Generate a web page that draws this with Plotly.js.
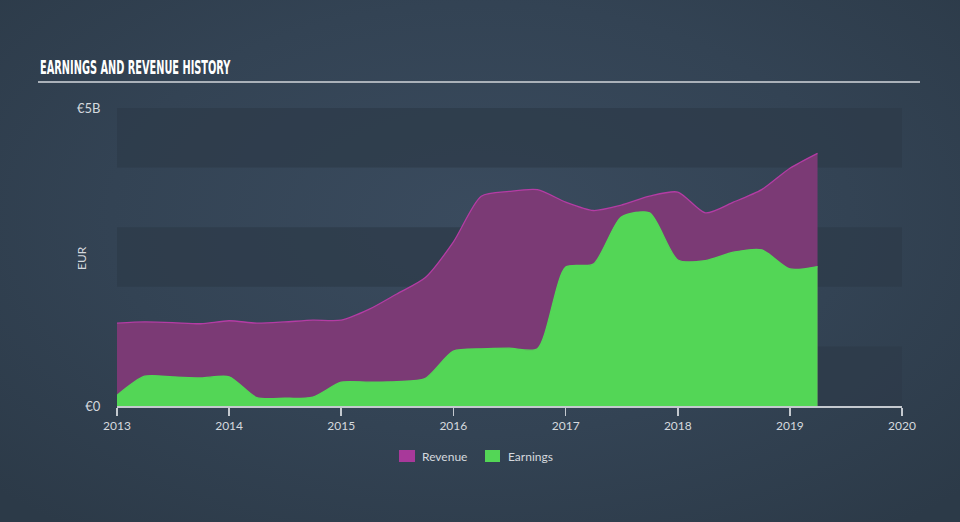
<!DOCTYPE html>
<html>
<head>
<meta charset="utf-8">
<script src="https://cdn.plot.ly/plotly-3.0.1.min.js"></script>
<style>
html,body{margin:0;padding:0;width:960px;height:522px;overflow:hidden;
background:radial-gradient(ellipse 70% 75% at 50% 42%, #3a4b5e 0%, #334354 55%, #2c3a48 100%);}
#chart{width:960px;height:522px;}
</style>
</head>
<body>
<div id="chart"></div>
<script>
const revenueDates = ['2013-01-01','2013-04-01','2013-07-01','2013-10-01','2014-01-01','2014-04-01','2014-07-01','2014-10-01','2015-01-01','2015-04-01','2015-07-01','2015-10-01','2016-01-01','2016-04-01','2016-07-01','2016-10-01','2017-01-01','2017-04-01','2017-07-01','2017-10-01','2018-01-01','2018-04-01','2018-07-01','2018-10-01','2019-01-01','2019-04-01'];
const revenueValues = [1.39,1.41,1.40,1.38,1.43,1.39,1.41,1.44,1.44,1.62,1.88,2.15,2.75,3.52,3.60,3.63,3.42,3.28,3.37,3.52,3.59,3.24,3.42,3.63,3.99,4.24];
const earningsDates = revenueDates;
const earningsValues = [0.18,0.50,0.49,0.47,0.49,0.14,0.13,0.15,0.40,0.40,0.41,0.46,0.92,0.96,0.97,0.96,2.33,2.38,3.17,3.24,2.45,2.44,2.58,2.62,2.30,2.34];
const yTickVals = [0,5];
const yTickText = ['€0','€5B'];
const seriesNames = ['Revenue','Earnings'];
const seriesColors = ['#a8399a','#53d656'];

const font = 'Lato, "Open Sans", sans-serif';
const L = 117, T = 108, W = 785, H = 298;
const px = x => (x - L) / W;
const py = y => (T + H - y) / H;

const bands = [[0,1],[2,3],[4,5]].map(b => ({type:'rect',xref:'paper',yref:'y',x0:0,x1:1,y0:b[0],y1:b[1],fillcolor:'#2d3b4a',opacity:0.75,line:{width:0},layer:'below'}));

// legend swatches (manual)
const legendSw = [[399,415],[485,500]];
const legendTx = [420,506];
const legendShapes = legendSw.map((s,i)=>({type:'rect',xref:'paper',yref:'paper',x0:px(s[0]),x1:px(s[1]),y0:py(462),y1:py(450),fillcolor:seriesColors[i],line:{width:0}}));
const legendAnn = legendTx.map((x,i)=>({text:seriesNames[i],xref:'paper',yref:'paper',x:px(x),y:py(456),xanchor:'left',yanchor:'middle',showarrow:false,font:{size:12,color:'#d5d9de',family:font}}));

const traces = [
 {x:revenueDates,y:revenueValues,type:'scatter',mode:'lines',fill:'tozeroy',fillcolor:'#7b3a75',name:seriesNames[0],
  line:{color:'#b43ca4',width:1.3,shape:'spline',smoothing:0.7},showlegend:false,hoverinfo:'skip'},
 {x:earningsDates,y:earningsValues,type:'scatter',mode:'lines',fill:'tozeroy',fillcolor:'#53d656',name:seriesNames[1],
  line:{color:'#53d656',width:1.3,shape:'spline',smoothing:0.7},showlegend:false,hoverinfo:'skip'}
];

const layout = {
 width:960,height:522,
 paper_bgcolor:'rgba(0,0,0,0)',plot_bgcolor:'rgba(0,0,0,0)',
 margin:{l:L,r:960-L-W,t:T,b:522-T-H},
 font:{family:font,color:'#d5d9de',size:12},
 showlegend:false,
 xaxis:{type:'date',range:['2013-01-01','2020-01-01'],dtick:'M12',tick0:'2013-01-01',tickformat:'%Y',
  showgrid:false,zeroline:false,showline:true,linecolor:'#c4c9cf',linewidth:1.5,
  ticks:'outside',ticklen:8,tickcolor:'#c4c9cf',tickwidth:1.5,tickfont:{size:12,color:'#d5d9de'},fixedrange:true},
 yaxis:{range:[0,5],tickvals:yTickVals,ticktext:yTickText,showgrid:false,zeroline:false,showline:false,
  ticks:'outside',ticklen:13,tickcolor:'rgba(0,0,0,0)',tickfont:{size:13,color:'#d5d9de'},fixedrange:true},
 shapes:bands.concat([{type:'line',xref:'paper',yref:'paper',x0:px(38),x1:px(920),y0:py(82),y1:py(82),line:{color:'#aab1b9',width:2}}]).concat(legendShapes),
 annotations:[
  {text:'<b>EARNINGS AND REVENUE HISTORY</b>',xref:'paper',yref:'paper',x:px(38),y:py(67),xanchor:'left',yanchor:'middle',showarrow:false,
   font:{family:'"DejaVu Sans Condensed","DejaVu Sans",sans-serif',size:20,color:'#ffffff'}},
  {text:'EUR',xref:'paper',yref:'paper',x:px(81),y:py(258),xanchor:'center',yanchor:'middle',textangle:-90,showarrow:false,
   font:{size:12,color:'#d5d9de',family:font}}
 ].concat(legendAnn)
};
Plotly.newPlot('chart',traces,layout,{displayModeBar:false,staticPlot:true}).then(gd=>{
  // condense the title text to the reference width
  const t = gd.querySelector('.annotation text.annotation-text');
  if(t){
    const bb = t.getBBox();
    const s = 191 / bb.width;
    if (s < 1) t.setAttribute('transform', `translate(${bb.x},0) scale(${s},1) translate(${-bb.x},0)`);
  }
});
</script>
</body>
</html>
